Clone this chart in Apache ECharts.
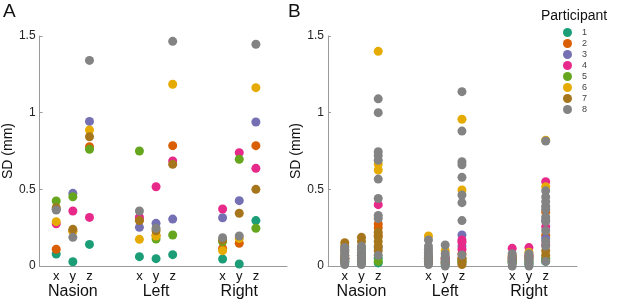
<!DOCTYPE html>
<html>
<head>
<meta charset="utf-8">
<script src="https://cdn.jsdelivr.net/npm/echarts@6/dist/echarts.min.js"></script>
<style>
  html, body { margin: 0; padding: 0; background: #fff; }
  #chart { width: 617px; height: 300px; }
</style>
</head>
<body>
<div id="chart"></div>
<script>
// x positions of the 9 columns: Nasion x,y,z | Left x,y,z | Right x,y,z
var colPos = [1, 2, 3, 6, 7, 8, 11, 12, 13];
var colLabels = ['x', 'y', 'z', 'x', 'y', 'z', 'x', 'y', 'z'];
var groupNames = ['Nasion', 'Left', 'Right'];
var participants = ['1', '2', '3', '4', '5', '6', '7', '8'];
var colors = ['#1b9e77', '#d95f02', '#7570b3', '#e7298a', '#66a61e', '#e6ab02', '#a6761d', '#838383'];
var yTicks = [0, 0.5, 1, 1.5];

// panel A: one SD per participant per column
var aP1 = [0.078, 0.028, 0.141, 0.061, 0.048, 0.074, 0.046, 0.013, 0.296];
var aP2 = [0.109, 0.23, 0.778, 0.30, 0.20, 0.785, 0.115, 0.148, 0.785];
var aP3 = [0.37, 0.474, 0.943, 0.252, 0.278, 0.306, 0.315, 0.426, 0.939];
var aP4 = [0.275, 0.359, 0.317, 0.318, 0.517, 0.685, 0.372, 0.739, 0.637];
var aP5 = [0.424, 0.452, 0.761, 0.75, 0.176, 0.202, 0.159, 0.696, 0.246];
var aP6 = [0.289, 0.225, 0.887, 0.174, 0.196, 1.185, 0.10, 0.18, 1.163];
var aP7 = [0.38, 0.239, 0.843, 0.296, 0.23, 0.663, 0.17, 0.344, 0.50];
var aP8 = [0.365, 0.187, 1.341, 0.359, 0.246, 1.465, 0.185, 0.196, 1.446];

// panel B: several SDs per participant per column
var bP1 = [[0.02, 0.04], [0.02, 0.03], [0.02, 0.05], [0.02, 0.03], [0.01, 0.03], [0.02, 0.04], [0.02, 0.03], [0.01, 0.03], [0.03, 0.05]];
var bP2 = [[0.05, 0.07], [0.06, 0.08], [0.274, 0.25, 0.20], [0.04, 0.06], [0.03, 0.05], [0.05, 0.08], [0.03, 0.05], [0.04, 0.06], [0.352, 0.20]];
var bP3 = [[0.03, 0.05], [0.04], [0.12], [0.05], [0.04], [0.202, 0.13], [0.04], [0.05], [0.18, 0.30]];
var bP4 = [[0.04], [0.05], [0.40], [0.06], [0.05], [0.17, 0.155, 0.109], [0.115, 0.06], [0.12, 0.07], [0.55, 0.256, 0.137]];
var bP5 = [[0.03], [0.03], [0.03], [0.03], [0.02], [0.03], [0.03], [0.02], [0.04]];
var bP6 = [[0.06], [0.07], [1.40, 0.665, 0.626], [0.196], [0.10], [0.957, 0.496], [0.07], [0.09], [0.82, 0.517]];
var bP7 = [[0.152, 0.13, 0.10, 0.05], [0.187, 0.16, 0.12, 0.07], [0.22, 0.19, 0.16, 0.13, 0.10], [0.02, 0.05], [0.02], [0.01, 0.03, 0.05], [0.05], [0.06], [0.10, 0.07]];
var bP8 = [
  [0.01, 0.03, 0.05, 0.07, 0.09, 0.11, 0.12],
  [0.01, 0.03, 0.05, 0.07, 0.09, 0.11, 0.13],
  [1.09, 1.0, 0.745, 0.72, 0.69, 0.567, 0.44, 0.33, 0.31, 0.07],
  [0.17, 0.13, 0.11, 0.09, 0.07, 0.05, 0.03, 0.01],
  [0.137, 0.08, 0.06, 0.04, 0.02, 0.0],
  [1.137, 0.88, 0.68, 0.66, 0.578, 0.463, 0.413, 0.296, 0.072],
  [0.0, 0.02, 0.04, 0.06, 0.08],
  [0.0, 0.02, 0.04, 0.06, 0.08],
  [0.815, 0.49, 0.45, 0.42, 0.39, 0.37, 0.32, 0.29, 0.23, 0.16, 0.13, 0.03]
];

var partA = [aP1, aP2, aP3, aP4, aP5, aP6, aP7, aP8];
var partB = [bP1, bP2, bP3, bP4, bP5, bP6, bP7, bP8];

var font = 'Liberation Sans, Arial, Helvetica, sans-serif';
var axisGray = '#9a9a9a';

function xLabel(v) {
  var r = Math.round(v);
  var i = colPos.indexOf(r);
  if (i < 0 || Math.abs(v - r) > 1e-6) return '';
  var s = '{a|' + colLabels[i] + '}';
  if (i % 3 === 1) s += '\n{g|' + groupNames[(i - 1) / 3] + '}';
  return s;
}

function makeX(idx) {
  return {
    type: 'value', gridIndex: idx, min: 0, max: 14.87, interval: 1,
    splitLine: { show: false },
    axisTick: { show: false },
    axisLine: { lineStyle: { color: axisGray, width: 1 } },
    axisLabel: {
      margin: 3, color: '#111', fontFamily: font,
      formatter: xLabel,
      rich: {
        a: { fontSize: 13, lineHeight: 14, fontFamily: font, color: '#111' },
        g: { fontSize: 16, lineHeight: 17, fontFamily: font, color: '#111' }
      }
    }
  };
}

function makeY(idx) {
  return {
    type: 'value', gridIndex: idx, min: yTicks[0], max: yTicks[yTicks.length - 1], interval: 0.5,
    name: 'SD (mm)', nameLocation: 'middle', nameGap: 24,
    nameTextStyle: { fontSize: 14, fontFamily: font, color: '#111' },
    splitLine: { show: false },
    axisLine: { show: true, lineStyle: { color: axisGray, width: 1 } },
    axisTick: { show: true, inside: true, length: 3, lineStyle: { color: axisGray } },
    axisLabel: { fontSize: 12, margin: 4, color: '#222', fontFamily: font, formatter: function (v) { return String(v); } }
  };
}

var series = [];
partA.forEach(function (vals, p) {
  series.push({
    type: 'scatter', name: participants[p], xAxisIndex: 0, yAxisIndex: 0,
    symbolSize: 9, itemStyle: { color: colors[p], opacity: 1 },
    data: vals.map(function (v, i) { return [colPos[i], v]; })
  });
});
partB.forEach(function (cols, p) {
  var d = [];
  cols.forEach(function (list, i) {
    list.forEach(function (v) { d.push([colPos[i], v]); });
  });
  series.push({
    type: 'scatter', name: participants[p], xAxisIndex: 1, yAxisIndex: 1,
    symbolSize: 9, itemStyle: { color: colors[p], opacity: 1 },
    data: d
  });
});

var chart = echarts.init(document.getElementById('chart'));
chart.setOption({
  animation: false,
  textStyle: { fontFamily: font },
  title: [
    { text: 'A', left: 3, top: 2, padding: 0, textStyle: { fontSize: 19, fontWeight: 'normal', color: '#111', fontFamily: font } },
    { text: 'B', left: 288, top: 2, padding: 0, textStyle: { fontSize: 19, fontWeight: 'normal', color: '#111', fontFamily: font } },
    { text: 'Participant', left: 541, top: 9, padding: 0, textStyle: { fontSize: 14, fontWeight: 'normal', color: '#111', fontFamily: font } }
  ],
  legend: {
    data: participants, orient: 'vertical', left: 563, top: 28, padding: 0,
    icon: 'circle', itemWidth: 9, itemHeight: 9, itemGap: 2,
    textStyle: { fontSize: 9, color: '#444', fontFamily: font, padding: [0, 0, 0, 5] },
    selectedMode: false
  },
  grid: [
    { left: 39, top: 36, width: 248, height: 230 },
    { left: 328, top: 36, width: 249, height: 230 }
  ],
  xAxis: [makeX(0), makeX(1)],
  yAxis: [makeY(0), makeY(1)],
  series: series
});
</script>
</body>
</html>
